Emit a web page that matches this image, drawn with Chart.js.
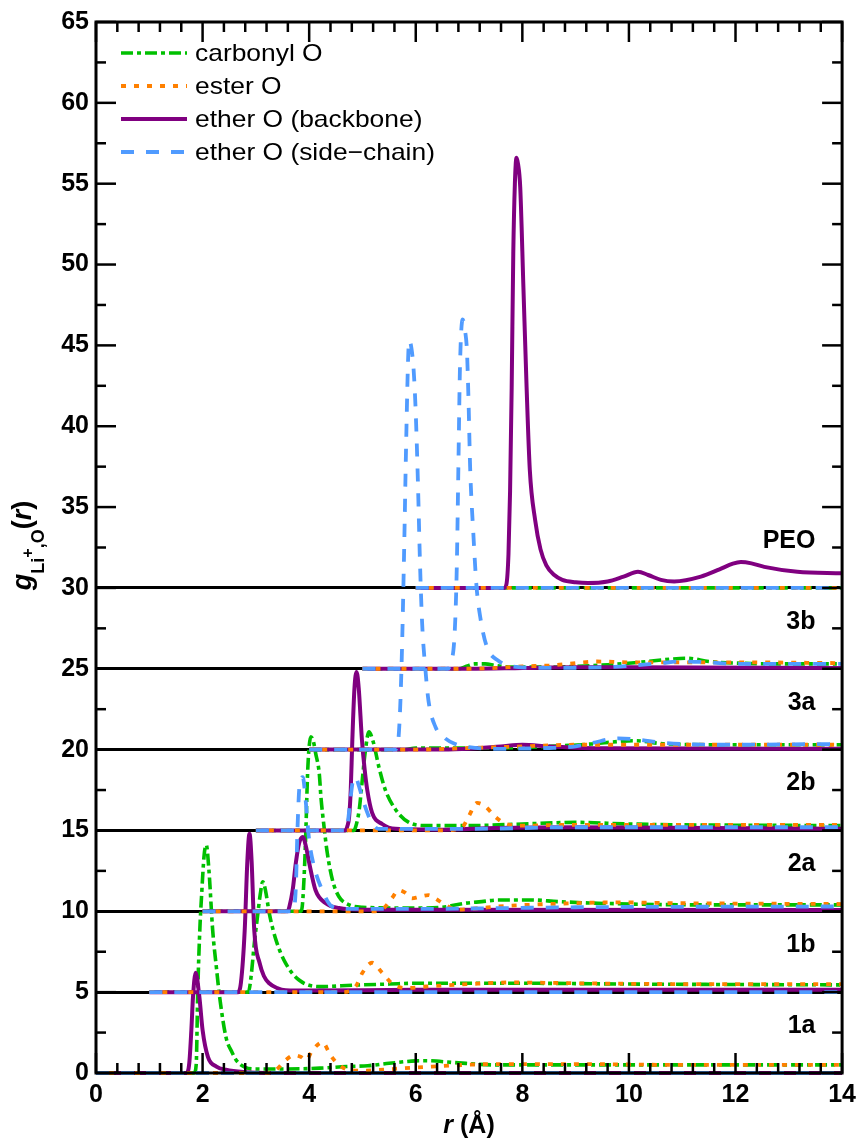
<!DOCTYPE html>
<html>
<head>
<meta charset="utf-8">
<script src="https://cdn.jsdelivr.net/npm/chart.js@4.4.1/dist/chart.umd.min.js"></script>
<style>
  html, body { margin: 0; padding: 0; background: #fff; }
  canvas { display: block; }
</style>
</head>
<body>
<canvas id="rdf" width="863" height="1140"></canvas>
<script>
// Li+–O radial distribution functions, g(r), for each system.
// Each curve is stored unshifted as [r (Å), g(r)] pairs; the plot stacks
// the systems by offsetting them along both axes.

const systems = ['1a', '1b', '2a', '2b', '3a', '3b', 'PEO'];
const rOffset = [0, 1, 2, 3, 4, 5, 6];        // Å added to r for each system
const gOffset = [0, 5, 10, 15, 20, 25, 30];   // added to g(r) for each system

const seriesNames = ['carbonyl O', 'ester O', 'ether O (backbone)', 'ether O (side\u2212chain)'];

// ---- carbonyl O ----
const carbonyl_1a = [[0,0],[1.84,0],[1.88,0.5],[1.91,5.1],[1.95,9.0],[1.98,10.9],[2.03,13.5],[2.07,14.1],[2.12,12.5],[2.19,8.8],[2.26,6.5],[2.32,4.7],[2.44,2.2],[2.55,1.3],[2.63,0.8],[2.8,0.35],[3.0,0.25],[3.5,0.25],[4.2,0.3],[4.7,0.4],[5.1,0.45],[5.5,0.6],[6.0,0.75],[6.2,0.76],[6.7,0.65],[7.5,0.5],[9,0.5],[11,0.5],[14,0.5]];
const carbonyl_1b = [[0,0],[1.86,0],[1.91,0.96],[1.97,3.0],[2.03,4.67],[2.08,6.0],[2.13,6.83],[2.18,6.3],[2.25,4.9],[2.38,3.2],[2.56,1.78],[2.81,0.75],[3.19,0.34],[3.87,0.44],[4.5,0.5],[5.0,0.55],[6.0,0.55],[7,0.55],[9,0.5],[13,0.45]];
const carbonyl_2a = [[0,0],[1.84,0],[1.87,0.3],[1.91,2.5],[1.94,5.2],[1.97,8.5],[2.0,10.2],[2.03,10.8],[2.08,10.5],[2.12,9.8],[2.19,8.5],[2.22,7.1],[2.28,5.2],[2.34,3.6],[2.44,1.9],[2.56,0.9],[2.75,0.4],[3.0,0.25],[4.0,0.2],[4.49,0.25],[4.93,0.5],[5.24,0.6],[5.55,0.7],[6.17,0.7],[6.67,0.6],[7.42,0.5],[9.3,0.4],[12,0.4]];
const carbonyl_2b = [[0,0],[1.84,0],[1.87,0.2],[1.94,1.3],[1.99,2.9],[2.05,4.8],[2.12,6.1],[2.2,5.5],[2.31,3.9],[2.43,2.5],[2.62,1.3],[2.87,0.5],[3.2,0.3],[4.0,0.3],[5.0,0.4],[6.0,0.5],[7.0,0.4],[8.0,0.35],[11,0.3]];
const carbonyl_3a = [[0,0],[1.8,0],[2.0,0.1],[3.5,0.1],[4.5,0.2],[5.3,0.35],[5.8,0.5],[6.1,0.55],[6.7,0.35],[8,0.3],[10,0.3]];
const carbonyl_3b = [[0,0],[1.8,0],[1.95,0.15],[2.1,0.3],[2.3,0.3],[2.5,0.2],[2.8,0.1],[3.5,0.1],[4.0,0.15],[4.6,0.25],[5.2,0.4],[5.8,0.6],[6.1,0.65],[6.5,0.45],[7,0.35],[8,0.3],[9,0.3]];
const carbonyl_PEO = [[0,0],[8,0]];

// ---- ester O ----
const ester_1a = [[0,0],[3.2,0],[3.38,0.2],[3.56,0.8],[3.72,1.1],[3.84,1.0],[3.94,0.8],[4.06,1.4],[4.25,1.9],[4.4,1.1],[4.56,0.5],[4.75,0.2],[5.0,0.15],[5.8,0.3],[6.3,0.4],[7.5,0.55],[9,0.55],[11,0.5],[14,0.5]];
const ester_1b = [[0,0],[3.6,0],[3.87,0.34],[4.0,1.2],[4.18,1.82],[4.37,1.2],[4.55,0.55],[4.8,0.25],[5.2,0.35],[6.0,0.5],[6.8,0.6],[8,0.55],[10,0.5],[13,0.5]];
const ester_2a = [[0,0],[3.2,0],[3.4,0.2],[3.55,0.8],[3.68,1.3],[3.8,1.15],[3.93,0.8],[4.05,0.88],[4.24,1.0],[4.34,0.85],[4.55,0.4],[4.8,0.1],[5.2,0.2],[5.55,0.3],[6.5,0.45],[7.8,0.55],[9,0.5],[12,0.45]];
const ester_2b = [[0,0],[3.5,0],[3.87,0.2],[3.99,0.85],[4.15,1.7],[4.3,1.5],[4.49,0.85],[4.7,0.4],[5.0,0.3],[6,0.35],[8,0.35],[11,0.35]];
const ester_3a = [[0,0],[2,0],[3,0.1],[4,0.2],[5,0.3],[6,0.3],[8,0.3],[10,0.3]];
const ester_3b = [[0,0],[2,0],[2.5,0.05],[3.0,0.15],[3.5,0.2],[4.0,0.35],[4.4,0.45],[5,0.4],[7,0.4],[9,0.35]];
const ester_PEO = [[0,0],[8,0]];

// ---- ether O (backbone) ----
const backbone_1a = [[0,0],[1.7,0],[1.75,0.6],[1.79,2.7],[1.82,4.7],[1.87,6.2],[1.94,4.7],[2.0,2.66],[2.1,1.0],[2.26,0.4],[2.44,0.2],[2.8,0.05],[3.2,0],[14,0]];
const backbone_1b = [[0,0],[1.66,0],[1.72,0.6],[1.79,3.8],[1.84,8.1],[1.88,9.8],[1.92,8.1],[1.97,3.8],[2.07,1.8],[2.15,1.0],[2.25,0.55],[2.4,0.25],[2.56,0.12],[3.0,0.1],[5,0.15],[13,0.15]];
const backbone_2a = [[0,0],[1.6,0],[1.63,0.3],[1.69,1.3],[1.75,3.0],[1.81,4.2],[1.88,4.6],[1.94,4.0],[2.0,3.0],[2.12,1.3],[2.31,0.5],[2.56,0.2],[3.0,0.1],[12,0.08]];
const backbone_2b = [[0,0],[1.68,0],[1.72,0.3],[1.75,0.85],[1.78,2.5],[1.81,5.6],[1.85,8.8],[1.89,9.8],[1.93,8.8],[1.99,5.6],[2.04,3.8],[2.09,2.5],[2.18,1.1],[2.37,0.4],[2.62,0.1],[3.5,0.05],[4.5,0.15],[6,0.2],[11,0.1]];
const backbone_3a = [[0,0],[2.5,0],[3.0,0.05],[3.6,0.2],[4.0,0.3],[4.5,0.2],[5.5,0.08],[10,0.05]];
const backbone_3b = [[0,0],[2,0],[3,0.05],[4,0.1],[5,0.1],[9,0.05]];
const backbone_PEO = [[0,0],[1.66,0],[1.70,0.2],[1.74,2.1],[1.77,6.0],[1.80,12.4],[1.83,20.7],[1.86,25.0],[1.89,26.6],[1.92,26.2],[1.96,24.8],[2.02,18.6],[2.08,12.4],[2.14,7.3],[2.24,4.2],[2.34,2.4],[2.45,1.4],[2.6,0.8],[2.75,0.5],[3.0,0.35],[3.23,0.3],[3.6,0.4],[3.9,0.7],[4.17,1.0],[4.36,0.8],[4.6,0.5],[4.85,0.4],[5.35,0.7],[5.7,1.15],[5.95,1.5],[6.1,1.6],[6.3,1.52],[6.54,1.3],[7.16,1.0],[8,0.9]];

// ---- ether O (side-chain) ----
const sidechain_1a = [[0,0],[14,0]];
const sidechain_1b = [[0,0],[13,0]];
const sidechain_2a = [[0,0],[1.7,0],[1.75,1.5],[1.78,5.0],[1.82,7.8],[1.88,8.3],[1.93,7.0],[2.0,4.4],[2.09,2.8],[2.22,1.5],[2.43,0.3],[2.7,0.15],[4,0.15],[7,0.25],[12,0.3]];
const sidechain_2b = [[0,0],[1.7,0],[1.73,0.6],[1.78,2.1],[1.83,3.2],[1.87,3.3],[1.92,2.9],[1.99,2.1],[2.08,1.2],[2.15,0.65],[2.3,0.1],[4,0.1],[6,0.2],[11,0.2]];
const sidechain_3a = [[0,0],[1.6,0],[1.65,0.1],[1.7,2.0],[1.74,6.0],[1.78,12.0],[1.82,19.0],[1.86,24.5],[1.88,25.3],[1.92,24.8],[1.96,23.5],[2.0,20.8],[2.04,16.6],[2.08,11.5],[2.12,7.8],[2.18,5.0],[2.24,3.0],[2.37,1.4],[2.55,0.7],[2.74,0.35],[3.0,0.15],[3.5,0.05],[4.5,0.1],[5.0,0.2],[5.3,0.4],[5.8,0.7],[6.1,0.65],[6.7,0.4],[7.8,0.3],[10,0.35]];
const sidechain_3b = [[0,0],[1.6,0],[1.65,0.3],[1.73,2.2],[1.77,6.3],[1.8,12.5],[1.83,18.7],[1.88,21.6],[1.93,20.8],[1.96,19.7],[1.99,16.6],[2.02,12.5],[2.08,8.4],[2.14,5.1],[2.21,3.2],[2.33,1.4],[2.55,0.5],[2.93,0.1],[3.5,0.05],[4.6,0.1],[5.1,0.2],[5.6,0.35],[6.0,0.45],[6.5,0.4],[7.0,0.3],[9,0.3]];
const sidechain_PEO = [[0,0],[8,0]];

const carbonylO  = [carbonyl_1a, carbonyl_1b, carbonyl_2a, carbonyl_2b, carbonyl_3a, carbonyl_3b, carbonyl_PEO];
const esterO     = [ester_1a, ester_1b, ester_2a, ester_2b, ester_3a, ester_3b, ester_PEO];
const backboneO  = [backbone_1a, backbone_1b, backbone_2a, backbone_2b, backbone_3a, backbone_3b, backbone_PEO];
const sideChainO = [sidechain_1a, sidechain_1b, sidechain_2a, sidechain_2b, sidechain_3a, sidechain_3b, sidechain_PEO];

const xTickStep = 2, yTickStep = 5;

// ---------------- styling ----------------
const FONT = '"Liberation Sans", Arial, Helvetica, sans-serif';
const seriesStyle = [
  { color: 'rgb(0,192,0)',    width: 3.6, dash: [12, 4, 4, 4], order: 4 },
  { color: 'rgb(255,128,0)',  width: 3.8, dash: [5, 8],        order: 2 },
  { color: 'rgb(128,0,128)',  width: 4,   dash: [],            order: 3 },
  { color: 'rgb(80,155,255)', width: 3.8, dash: [13, 12],      order: 1 }
];
const allSeries = [carbonylO, esterO, backboneO, sideChainO];

const datasets = [];
systems.forEach((sys, i) => {
  allSeries.forEach((curves, s) => {
    const st = seriesStyle[s];
    datasets.push({
      label: seriesNames[s] + ' \u2013 ' + sys,
      data: curves[i].map(([r, g]) => ({ x: r + rOffset[i], y: g + gOffset[i] })),
      borderColor: st.color,
      borderWidth: st.width,
      borderDash: st.dash,
      pointRadius: 0,
      fill: false,
      cubicInterpolationMode: 'monotone',
      order: st.order,
      clip: 6
    });
  });
});

// text drawn slightly widened, like the rest of the lettering
function wideText(ctx, text, x, y, sx) {
  ctx.save();
  ctx.translate(x, y);
  ctx.scale(sx, 1);
  ctx.fillText(text, 0, 0);
  ctx.restore();
}

// frame, inward tick marks, system labels, legend and axis titles
const decorations = {
  id: 'decorations',
  afterDatasetsDraw(chart) {
    const { ctx, chartArea: a, scales: { x, y } } = chart;
    ctx.save();
    ctx.strokeStyle = '#000';
    ctx.lineCap = 'butt';

    const seg = (x1, y1, x2, y2) => { ctx.beginPath(); ctx.moveTo(x1, y1); ctx.lineTo(x2, y2); ctx.stroke(); };

    // x ticks: major every 2 Å, minor every 0.4 Å
    ctx.lineWidth = 2.5;
    for (let k = 0; k <= 35; k++) {
      const px = x.getPixelForValue(k * 0.4);
      const len = (k % 5 === 0) ? 20 : 10;
      seg(px, a.bottom, px, a.bottom - len);
      seg(px, a.top, px, a.top + len);
    }
    // y ticks: major every 5, minor every 2.5
    for (let k = 0; k <= 26; k++) {
      const py = y.getPixelForValue(k * 2.5);
      const len = (k % 2 === 0) ? 20 : 10;
      seg(a.left, py, a.left + len, py);
      seg(a.right, py, a.right - len, py);
    }
    // frame
    ctx.lineWidth = 3;
    ctx.strokeRect(a.left, a.top, a.right - a.left, a.bottom - a.top);

    // system labels on the right
    ctx.fillStyle = '#000';
    ctx.font = 'bold 25px ' + FONT;
    ctx.textAlign = 'right';
    ctx.textBaseline = 'middle';
    systems.forEach((sys, i) => {
      ctx.fillText(sys, x.getPixelForValue(13.5), y.getPixelForValue(gOffset[i] + 2.9));
    });

    // legend
    ctx.font = '24px ' + FONT;
    ctx.textAlign = 'left';
    seriesNames.forEach((name, s) => {
      const st = seriesStyle[s];
      const ly = a.top + 31 + s * 33;
      ctx.save();
      ctx.strokeStyle = st.color;
      ctx.lineWidth = st.width;
      ctx.setLineDash(st.dash);
      seg(a.left + 25, ly, a.left + 91, ly);
      ctx.restore();
      ctx.fillStyle = '#000';
      wideText(ctx, name, a.left + 99, ly + 1, 1.1);
    });

    // x axis title: r (Å)
    const cx = (a.left + a.right) / 2;
    const by = 1133;
    ctx.textBaseline = 'alphabetic';
    const fItal = 'italic bold 25px ' + FONT;
    const fBold = 'bold 25px ' + FONT;
    ctx.font = fItal; const w1 = ctx.measureText('r').width;
    ctx.font = fBold; const w2 = ctx.measureText(' (\u00C5)').width;
    let tx = cx - (w1 + w2) / 2;
    ctx.font = fItal; ctx.fillText('r', tx, by); tx += w1;
    ctx.font = fBold; ctx.fillText(' (\u00C5)', tx, by);

    // y axis title: g_{Li+,O}(r), rotated
    const parts = [
      { t: 'g',  f: 'italic bold 27px ' + FONT, dy: 0 },
      { t: 'Li', f: 'bold 18px ' + FONT,        dy: 13 },
      { t: '+',  f: 'bold 16px ' + FONT,        dy: 2 },
      { t: ',O', f: 'bold 18px ' + FONT,        dy: 13 },
      { t: '(',  f: 'bold 27px ' + FONT,        dy: 0 },
      { t: 'r',  f: 'italic bold 27px ' + FONT, dy: 0 },
      { t: ')',  f: 'bold 27px ' + FONT,        dy: 0 }
    ];
    let total = 0;
    parts.forEach(p => { ctx.font = p.f; p.w = ctx.measureText(p.t).width; total += p.w; });
    ctx.translate(31, y.getPixelForValue(32.5) - 2);
    ctx.rotate(-Math.PI / 2);
    let px = -total / 2;
    parts.forEach(p => { ctx.font = p.f; ctx.fillText(p.t, px, p.dy); px += p.w; });

    ctx.restore();
  }
};

new Chart(document.getElementById('rdf'), {
  type: 'line',
  data: { datasets },
  options: {
    responsive: false,
    animation: false,
    devicePixelRatio: 1,
    layout: { padding: { left: 0, right: 18, top: 22, bottom: 0 } },
    plugins: { legend: { display: false }, tooltip: { enabled: false } },
    scales: {
      x: {
        type: 'linear', min: 0, max: 14,
        ticks: { stepSize: xTickStep, color: '#000', padding: 7, maxRotation: 0,
                 font: { family: FONT, size: 25, weight: 'bold' } },
        grid: { display: false, drawTicks: false },
        border: { display: false },
        afterFit(scale) { scale.height = 67; }
      },
      y: {
        type: 'linear', min: 0, max: 65,
        ticks: { stepSize: yTickStep, color: '#000', padding: 7,
                 font: { family: FONT, size: 25, weight: 'bold' } },
        grid: {
          drawTicks: false,
          lineWidth: 3,
          color: (c) => (c.tick && c.tick.value >= 5 && c.tick.value <= 30) ? '#000' : 'rgba(0,0,0,0)'
        },
        border: { display: false },
        afterFit(scale) { scale.width = 96; }
      }
    }
  },
  plugins: [decorations]
});
</script>
</body>
</html>
